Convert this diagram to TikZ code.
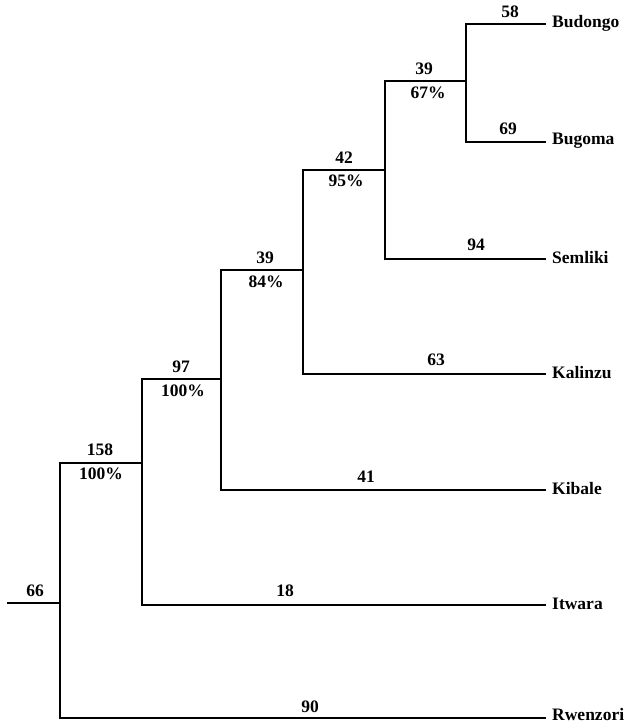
\documentclass[tikz,border=0pt]{standalone}
\usepackage{fontspec}
\setmainfont{Liberation Serif}
\begin{document}
\begin{tikzpicture}[x=1pt,y=-1pt,
  br/.style={line width=2.8pt,line cap=rect},
  leaf/.style={anchor=west,inner sep=0pt,font=\bfseries\fontsize{17.5}{19}\selectfont},
  lab/.style={inner sep=0pt,font=\bfseries\fontsize{17.5}{19}\selectfont}]
\useasboundingbox (0,0) rectangle (636,727);
% internal nodes (position of incoming horizontal branch end)
\coordinate (stub) at (8,603);
\coordinate (root) at (60,603);
\coordinate (n158) at (142,463);
\coordinate (n97) at (221,379);
\coordinate (n39a) at (303,270);
\coordinate (n42) at (385,170);
\coordinate (n39b) at (466,81);
% leaves
\node[leaf] (Budongo) at (552,23) {Budongo};
\node[leaf] (Bugoma) at (552,141) {Bugoma};
\node[leaf] (Semliki) at (552,258) {Semliki};
\node[leaf] (Kalinzu) at (552,373) {Kalinzu};
\node[leaf] (Kibale) at (552,489) {Kibale};
\node[leaf] (Itwara) at (552,604) {Itwara};
\node[leaf] (Rwenzori) at (552,715) {Rwenzori};
% branches
\draw[br] (stub) -- (root);
\draw[br] (n158) -| (root) |- ([xshift=-7pt,yshift=-3pt]Rwenzori.west);
\draw[br] (n97) -| (n158) |- ([xshift=-7pt,yshift=-1pt]Itwara.west);
\draw[br] (n39a) -| (n97) |- ([xshift=-7pt,yshift=-1pt]Kibale.west);
\draw[br] (n42) -| (n39a) |- ([xshift=-7pt,yshift=-1pt]Kalinzu.west);
\draw[br] (n39b) -| (n42) |- ([xshift=-7pt,yshift=-1pt]Semliki.west);
\draw[br] ([xshift=-7pt,yshift=-1pt]Budongo.west) -| (n39b) |- ([xshift=-7pt,yshift=-1pt]Bugoma.west);
% branch labels
\node[lab] (l66) at (35,591) {66};
\node[lab] (l90) at (310,707) {90};
\node[lab] (l158) at (100,450) {158};
\node[lab] (p158) at (101,474) {100\%};
\node[lab] (l18) at (285,591) {18};
\node[lab] (l97) at (181,367) {97};
\node[lab] (p97) at (183,391) {100\%};
\node[lab] (l41) at (366,477) {41};
\node[lab] (l39a) at (265,258) {39};
\node[lab] (p84) at (266,282) {84\%};
\node[lab] (l63) at (436,360) {63};
\node[lab] (l42) at (344,158) {42};
\node[lab] (p95) at (346,181) {95\%};
\node[lab] (l94) at (476,245) {94};
\node[lab] (l39b) at (424,69) {39};
\node[lab] (p67) at (428,93) {67\%};
\node[lab] (l58) at (510,12) {58};
\node[lab] (l69) at (508,129) {69};
\end{tikzpicture}
\end{document}
